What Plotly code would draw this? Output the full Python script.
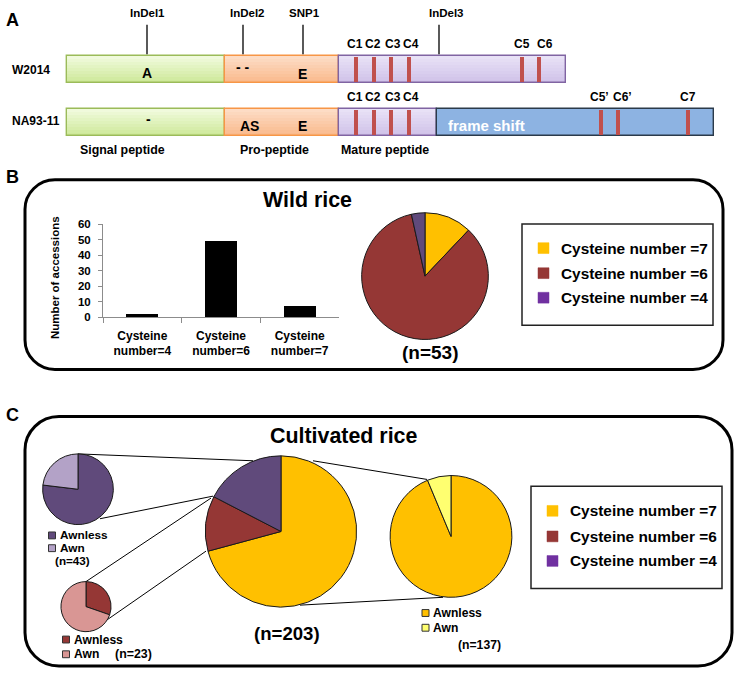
import plotly.graph_objects as go

W, H = 734, 675

# ---------------- data ----------------
# Panel A: protein schematic (positions along the schematic)
w2014_seg_start = [67, 225, 339]
w2014_seg_end = [225, 339, 566]
na9311_seg_start = [67, 225, 339, 437]
na9311_seg_end = [225, 339, 437, 714]
region_names = ["Signal peptide", "Pro-peptide", "Mature peptide"]
w2014_cys_pos = [356, 374, 391, 409, 522, 539]
w2014_cys_labels = ["C1", "C2", "C3", "C4", "C5", "C6"]
na9311_cys_pos = [356, 374, 391, 409, 601, 618, 688]
na9311_cys_labels = ["C1", "C2", "C3", "C4", "C5\u2019", "C6\u2019", "C7"]
variant_names = ["InDel1", "InDel2", "SNP1", "InDel3"]
variant_pos = [147, 243, 303, 439]
w2014_residues = ["A", "- -", "E"]
na9311_residues = ["-", "AS", "E"]

# Panel B: wild rice
bar_categories = ["Cysteine<br>number=4", "Cysteine<br>number=6", "Cysteine<br>number=7"]
wild_counts = [2, 49, 7]
cys_classes = ["Cysteine number =7", "Cysteine number =6", "Cysteine number =4"]
wild_pie_values = [7, 49, 2]
wild_n = 53

# Panel C: cultivated rice (slice shares as drawn)
cult_pie_values = [70.8, 11.8, 17.4]
cult_n = 203
awn_labels = ["Awnless", "Awn"]
sub7_values = [93.7, 6.3]
sub7_n = 137
sub6_values = [30.3, 69.7]
sub6_n = 23
sub4_values = [76.9, 23.1]
sub4_n = 43

# ---------------- styles ----------------
FONT = "Liberation Sans, Arial, Helvetica, sans-serif"
C7 = "#ffc000"
C6 = "#953735"
C4 = "#604a7b"
C4_LEG = "#7030a0"
C7_AWN = "#ffff70"
C6_AWN = "#d99694"
C4_AWN = "#b3a2c7"
CYS_RED = "#c0504d"
SEG_TOP = [(242, 251, 224), (253, 222, 200), (234, 227, 247), (141, 179, 226)]
SEG_BOT = [(204, 232, 150), (249, 184, 138), (206, 192, 232), (141, 179, 226)]
SEG_LINE = ["#9bbb59", "#f79646", "#8064a2", "#2b3a4a"]


def fx(x):
    return x / W


def fy(y):
    return 1 - y / H


def pie_dom(cx, cy, r):
    return dict(x=[fx(cx - r), fx(cx + r)], y=[fy(cy + r), fy(cy - r)])


def mix(c0, c1, t):
    return "rgb(%d,%d,%d)" % tuple(round(a + (b - a) * t) for a, b in zip(c0, c1))


fig = go.Figure()

# ---------------- Panel A ----------------
ROW_Y = [64.5, 118.5]
BOX_H = 27
NSTRIPE = 9
rows = [(ROW_Y[0], w2014_seg_start, w2014_seg_end), (ROW_Y[1], na9311_seg_start, na9311_seg_end)]
for row, starts, ends in rows:
    n = len(starts)
    lengths = [e - s for s, e in zip(starts, ends)]
    hs = BOX_H / NSTRIPE
    for i in range(NSTRIPE):
        t = (i + 0.5) / NSTRIPE
        fig.add_trace(go.Bar(
            orientation="h", y=[row - BOX_H / 2 + (i + 0.5) * hs] * n, base=starts, x=lengths,
            width=hs + 0.3, marker=dict(color=[mix(SEG_TOP[k], SEG_BOT[k], t) for k in range(n)],
                                        line=dict(width=0)),
            xaxis="x2", yaxis="y2", hoverinfo="skip", showlegend=False))
    fig.add_trace(go.Bar(
        orientation="h", y=[row] * n, base=starts, x=lengths, width=BOX_H,
        marker=dict(color="rgba(0,0,0,0)", line=dict(color=SEG_LINE[:n], width=1.4)),
        xaxis="x2", yaxis="y2", hoverinfo="skip", showlegend=False))
for row, pos in ((ROW_Y[0], w2014_cys_pos), (ROW_Y[1], na9311_cys_pos)):
    fig.add_trace(go.Bar(
        orientation="h", y=[row] * len(pos), base=[p - 2 for p in pos], x=[4] * len(pos),
        width=BOX_H - 2, marker=dict(color=CYS_RED, line=dict(width=0)),
        xaxis="x2", yaxis="y2", hoverinfo="skip", showlegend=False))
vx, vy = [], []
for p in variant_pos:
    vx += [p, p, None]
    vy += [19, 49, None]
fig.add_trace(go.Scatter(x=vx, y=vy, mode="lines", line=dict(color="black", width=1.3),
                         xaxis="x2", yaxis="y2", hoverinfo="skip", showlegend=False))

# ---------------- Panel B ----------------
fig.add_trace(go.Bar(x=bar_categories, y=wild_counts, width=0.41,
                     marker=dict(color="black", line=dict(width=0)),
                     xaxis="x", yaxis="y", hoverinfo="skip", showlegend=False))


def add_pie(values, labels, colors, dom):
    fig.add_trace(go.Pie(values=values, labels=labels, sort=False, direction="clockwise",
                         rotation=0, textinfo="none", hoverinfo="label+percent",
                         marker=dict(colors=colors, line=dict(color="#1a1a1a", width=1)),
                         domain=dom, showlegend=False))


add_pie(wild_pie_values, cys_classes, [C7, C6, C4], pie_dom(425, 275, 64.5))

# ---------------- Panel C ----------------
add_pie(cult_pie_values, cys_classes, [C7, C6, C4], pie_dom(281, 535, 77))
add_pie(sub4_values, awn_labels, [C4, C4_AWN], pie_dom(78, 492, 36))
add_pie(sub6_values, awn_labels, [C6, C6_AWN], pie_dom(86, 611.5, 25.5))
add_pie(sub7_values, awn_labels, [C7, C7_AWN], pie_dom(451, 540, 62))

# ---------------- shapes ----------------
shapes = []


def rrect(x0, y0, x1, y1, r, width=3):
    k = 0.5523 * r
    X = fx
    Y = fy
    p = (f"M {X(x0 + r)},{Y(y0)} L {X(x1 - r)},{Y(y0)} "
         f"C {X(x1 - r + k)},{Y(y0)} {X(x1)},{Y(y0 + r - k)} {X(x1)},{Y(y0 + r)} "
         f"L {X(x1)},{Y(y1 - r)} "
         f"C {X(x1)},{Y(y1 - r + k)} {X(x1 - r + k)},{Y(y1)} {X(x1 - r)},{Y(y1)} "
         f"L {X(x0 + r)},{Y(y1)} "
         f"C {X(x0 + r - k)},{Y(y1)} {X(x0)},{Y(y1 - r + k)} {X(x0)},{Y(y1 - r)} "
         f"L {X(x0)},{Y(y0 + r)} "
         f"C {X(x0)},{Y(y0 + r - k)} {X(x0 + r - k)},{Y(y0)} {X(x0 + r)},{Y(y0)} Z")
    shapes.append(dict(type="path", path=p, xref="paper", yref="paper",
                       line=dict(color="black", width=width), layer="below"))


def rect(x0, y0, x1, y1, fill="rgba(0,0,0,0)", line="#222", lw=1.5, layer="above"):
    shapes.append(dict(type="rect", xref="paper", yref="paper",
                       x0=fx(x0), x1=fx(x1), y0=fy(y1), y1=fy(y0),
                       fillcolor=fill, line=dict(color=line, width=lw), layer=layer))


def seg(x0, y0, x1, y1):
    shapes.append(dict(type="line", xref="paper", yref="paper",
                       x0=fx(x0), y0=fy(y0), x1=fx(x1), y1=fy(y1),
                       line=dict(color="black", width=1), layer="below"))


rrect(25, 177, 723, 370, 30)
rrect(25, 418, 732, 672, 34)

# legend boxes
rect(522, 222, 713, 325)
rect(531, 489, 722, 593)

# connector lines (zoom-out pies)
seg(78, 456, 253, 463)
seg(100, 522, 213, 499)
seg(86, 586, 211, 501)
seg(107, 625, 206, 555)
seg(313, 463, 427, 482)
seg(300, 610, 443, 602)

# ---------------- annotations ----------------
anns = []


def ann(text, x, y, size, color="black", xanchor="center", bold=True, ref="paper", angle=0):
    if ref == "paper":
        xx, yy, xr, yr = fx(x), fy(y), "paper", "paper"
    else:
        xx, yy, xr, yr = x, y, "x2", "y2"
    anns.append(dict(text=text, x=xx, y=yy, xref=xr, yref=yr, xanchor=xanchor,
                     yanchor="middle", showarrow=False, textangle=angle,
                     font=dict(family=FONT, size=size, color=color,
                               weight="bold" if bold else "normal")))


# Panel A texts
ann("A", 4, 14, 18, xanchor="left")
ann("W2014", 10, 65, 12, xanchor="left")
ann("NA93-11", 10, 117, 12, xanchor="left")
variant_label_x = [147, 247.5, 304.5, 446.5]
for name, lx in zip(variant_names, variant_label_x):
    ann(name, lx, 7.5, 11.5, ref="x2")
w_lab_x = [355, 373, 392.5, 411, 521.5, 544.5]
n_lab_x = [355, 373, 392.5, 411, 599.5, 622.5, 688]
for lab, lx in zip(w2014_cys_labels, w_lab_x):
    ann(lab, lx, 39, 12, ref="x2")
for lab, lx in zip(na9311_cys_labels, n_lab_x):
    ann(lab, lx, 93, 12, ref="x2")
w_res_xy = [(147, 68), (243, 62), (302, 69)]
n_res_xy = [(148, 115), (249, 122), (302, 122)]
for t, (x, y) in zip(w2014_residues, w_res_xy):
    ann(t, x, y, 14, ref="x2")
for t, (x, y) in zip(na9311_residues, n_res_xy):
    ann(t, x, y, 14, ref="x2")
ann("frame shift", 446, 122, 15, color="white", xanchor="left", ref="x2")
for name, lx in zip(region_names, [122.7, 274, 385]):
    ann(name, lx, 147, 12.4, ref="x2")

# Panel B texts
ann("B", 4, 174, 18, xanchor="left")
ann("Wild rice", 307.5, 198, 21.4)
ann("Number of accessions", 55, 277, 11.5, angle=-90)
ann(f"(n={wild_n})", 430.5, 353, 19)
for i, (lab, col) in enumerate(zip(cys_classes, [C7, C6, C4_LEG])):
    yy = [246.5, 272, 297][i]
    rect(538, yy - 5.5, 549, yy + 5.5, fill=col, line=col, lw=0.5)
    ann(lab, 559, yy, 15.4, xanchor="left")

# Panel C texts
ann("C", 4, 416.5, 18, xanchor="left")
ann("Cultivated rice", 343.5, 438, 21.4)
ann(f"(n={cult_n})", 287, 638.5, 18.6)
for i, (lab, col) in enumerate(zip(cys_classes, [C7, C6, C4_LEG])):
    yy = [514, 540, 565][i]
    rect(547, yy - 5.5, 558, yy + 5.5, fill=col, line=col, lw=0.5)
    ann(lab, 568, yy, 15.4, xanchor="left")


def small_legend(x_sq, ys, colors, n_text, n_xy, n_size, size=12.1):
    for lab, yy, col in zip(awn_labels, ys, colors):
        rect(x_sq - 3.5, yy - 3.5, x_sq + 3.5, yy + 3.5, fill=col, line="#333", lw=1)
        ann(lab, x_sq + 5.5, yy, size, xanchor="left")
    ann(n_text, n_xy[0], n_xy[1], n_size)


small_legend(52, [539, 552], [C4, C4_AWN], f"(n={sub4_n})", (72, 565), 11.7, size=11.8)
small_legend(66, [645, 660], [C6, C6_AWN], f"(n={sub6_n})", (133.5, 660), 12.4)
small_legend(425.5, [618, 633], [C7, C7_AWN], f"(n={sub7_n})", (479, 651), 12.2)

# ---------------- layout ----------------
fig.update_layout(
    width=W, height=H, margin=dict(l=0, r=0, t=0, b=0),
    paper_bgcolor="white", plot_bgcolor="rgba(0,0,0,0)",
    barmode="overlay", bargap=0,
    shapes=shapes, annotations=anns,
    font=dict(family=FONT, color="black"),
    xaxis=dict(domain=[fx(103), fx(339)], type="category", anchor="y",
               showline=True, linecolor="#8c8c8c", linewidth=1,
               ticks="outside", tickson="boundaries", ticklen=5, tickcolor="#8c8c8c",
               ticklabelstandoff=7,
               showgrid=False, zeroline=False,
               tickfont=dict(family=FONT, size=12, color="black", weight="bold")),
    yaxis=dict(domain=[fy(317), fy(222)], range=[0, 60], dtick=10, anchor="x",
               showline=True, linecolor="#8c8c8c", linewidth=1,
               ticks="outside", ticklen=4, tickcolor="#8c8c8c",
               ticklabelstandoff=5,
               showgrid=False, zeroline=False,
               tickfont=dict(family=FONT, size=11.5, color="black", weight="bold")),
    xaxis2=dict(domain=[0, 1], range=[0, W], visible=False, anchor="y2", fixedrange=True),
    yaxis2=dict(domain=[fy(160), 1], range=[160, 0], visible=False, anchor="x2", fixedrange=True),
)

fig.write_html("out.html",
               config={"displayModeBar": False},
               post_script="document.body.style.margin='0px';document.body.style.overflow='hidden';")
